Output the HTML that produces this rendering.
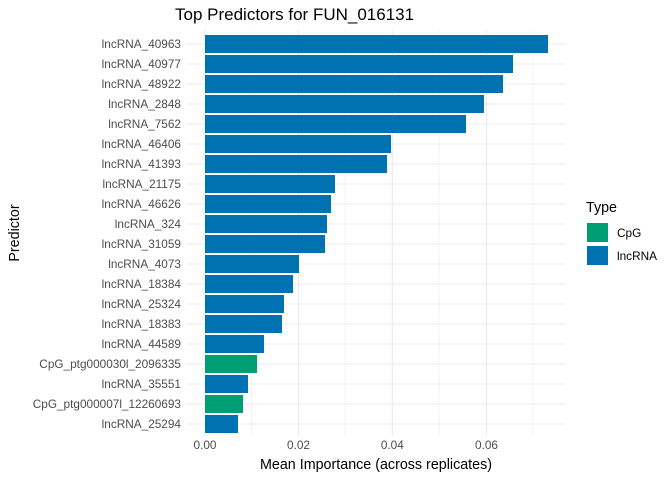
<!DOCTYPE html>
<html><head><meta charset="utf-8"><style>body{margin:0;background:#fff}</style></head><body>
<svg width="672" height="480" xmlns="http://www.w3.org/2000/svg" font-family="Liberation Sans, sans-serif">
<rect width="672" height="480" fill="#fff"/>
<g stroke="#ebebeb" stroke-width="0.6">
<line x1="251.7" y1="30" x2="251.7" y2="436"/><line x1="345" y1="30" x2="345" y2="436"/><line x1="439" y1="30" x2="439" y2="436"/><line x1="533" y1="30" x2="533" y2="436"/>
</g>
<g stroke="#ebebeb" stroke-width="1.1">
<line x1="205" y1="30" x2="205" y2="436"/><line x1="298.5" y1="30" x2="298.5" y2="436"/><line x1="392.3" y1="30" x2="392.3" y2="436"/><line x1="486.5" y1="30" x2="486.5" y2="436"/>
<line x1="187" y1="44" x2="565" y2="44"/><line x1="187" y1="64" x2="565" y2="64"/><line x1="187" y1="84" x2="565" y2="84"/><line x1="187" y1="104" x2="565" y2="104"/><line x1="187" y1="124" x2="565" y2="124"/><line x1="187" y1="144" x2="565" y2="144"/><line x1="187" y1="164" x2="565" y2="164"/><line x1="187" y1="184" x2="565" y2="184"/><line x1="187" y1="204" x2="565" y2="204"/><line x1="187" y1="224" x2="565" y2="224"/><line x1="187" y1="244" x2="565" y2="244"/><line x1="187" y1="264" x2="565" y2="264"/><line x1="187" y1="284" x2="565" y2="284"/><line x1="187" y1="304" x2="565" y2="304"/><line x1="187" y1="324" x2="565" y2="324"/><line x1="187" y1="344" x2="565" y2="344"/><line x1="187" y1="364" x2="565" y2="364"/><line x1="187" y1="384" x2="565" y2="384"/><line x1="187" y1="404" x2="565" y2="404"/><line x1="187" y1="424" x2="565" y2="424"/>
</g>
<g fill="#0072b2">
<rect x="205" y="35" width="343" height="18"/><rect x="205" y="55" width="308" height="18"/><rect x="205" y="75" width="298" height="18"/><rect x="205" y="95" width="279" height="18"/><rect x="205" y="115" width="261" height="18"/><rect x="205" y="135" width="186" height="18"/><rect x="205" y="155" width="182" height="18"/><rect x="205" y="175" width="130" height="18"/><rect x="205" y="195" width="126" height="18"/><rect x="205" y="215" width="122" height="18"/><rect x="205" y="235" width="120" height="18"/><rect x="205" y="255" width="94" height="18"/><rect x="205" y="275" width="88" height="18"/><rect x="205" y="295" width="79" height="18"/><rect x="205" y="315" width="77" height="18"/><rect x="205" y="335" width="59" height="18"/><rect x="205" y="375" width="43" height="18"/><rect x="205" y="415" width="33" height="18"/>
</g>
<g fill="#009e73"><rect x="205" y="355" width="52" height="18"/><rect x="205" y="395" width="38" height="18"/></g>
<g font-size="11.8" fill="#4d4d4d" text-anchor="end">
<text x="181" y="48">lncRNA_40963</text><text x="181" y="68">lncRNA_40977</text><text x="181" y="88">lncRNA_48922</text><text x="181" y="108">lncRNA_2848</text><text x="181" y="128">lncRNA_7562</text><text x="181" y="148">lncRNA_46406</text><text x="181" y="168">lncRNA_41393</text><text x="181" y="188">lncRNA_21175</text><text x="181" y="208">lncRNA_46626</text><text x="181" y="228">lncRNA_324</text><text x="181" y="248">lncRNA_31059</text><text x="181" y="268">lncRNA_4073</text><text x="181" y="288">lncRNA_18384</text><text x="181" y="308">lncRNA_25324</text><text x="181" y="328">lncRNA_18383</text><text x="181" y="348">lncRNA_44589</text><text x="181" y="368">CpG_ptg000030l_2096335</text><text x="181" y="388">lncRNA_35551</text><text x="181" y="408">CpG_ptg000007l_12260693</text><text x="181" y="428">lncRNA_25294</text>
</g>
<g font-size="11.8" fill="#4d4d4d" text-anchor="middle">
<text x="205" y="449">0.00</text><text x="298.5" y="449">0.02</text><text x="392.3" y="449">0.04</text><text x="486.5" y="449">0.06</text>
</g>
<text x="376" y="469" font-size="14.3" text-anchor="middle" fill="#000">Mean Importance (across replicates)</text>
<text transform="translate(19,233) rotate(-90)" font-size="14.3" text-anchor="middle" fill="#000">Predictor</text>
<text x="175" y="20" font-size="17" fill="#000">Top Predictors for FUN_016131</text>
<text x="586" y="212" font-size="14.3" fill="#000">Type</text>
<rect x="587" y="223" width="21" height="19" fill="#009e73"/>
<rect x="587" y="246" width="21" height="19" fill="#0072b2"/>
<text x="617" y="237" font-size="11.8" fill="#000">CpG</text>
<text x="617" y="260" font-size="11.8" fill="#000">lncRNA</text>
</svg>
</body></html>
